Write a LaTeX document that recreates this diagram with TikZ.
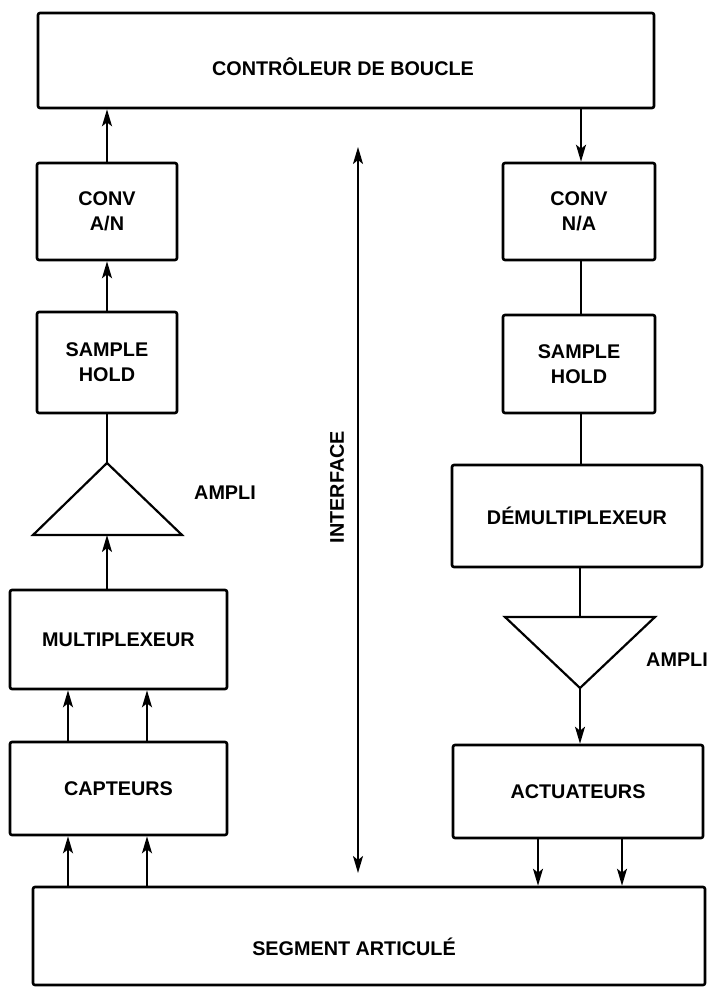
\documentclass[tikz,border=0pt]{standalone}
\usepackage{fontspec}
\setmainfont{Liberation Sans}
\usetikzlibrary{arrows.meta}
\begin{document}
\begin{tikzpicture}[x=1pt,y=-1pt,
  >={Stealth[length=17pt,width=10pt,inset=4pt]},
  blk/.style={draw, line width=2.6pt, rounded corners=2pt, inner sep=0pt,
    font=\bfseries\fontsize{19.8}{25}\selectfont, align=center},
  lbl/.style={font=\bfseries\fontsize{19.8}{25}\selectfont},
  flow/.style={line width=2pt, ->},
  link/.style={line width=2pt},
  amp/.style={line width=2.2pt, line join=miter}]
\useasboundingbox (0,0) rectangle (708,990);

% boxes
\node[blk, minimum width=616pt, minimum height=95pt,
  label={[lbl, shift={(-3,6)}]center:CONTRÔLEUR DE BOUCLE}] (ctrl) at (346,60.5) {};
\node[blk, minimum width=140pt, minimum height=97pt] (convAN) at (107,211.5) {CONV\\A/N};
\node[blk, minimum width=140pt, minimum height=101pt] (shL) at (107,362.5) {SAMPLE\\HOLD};
\node[blk, minimum width=217pt, minimum height=99pt] (mux) at (118.5,639.5) {MULTIPLEXEUR};
\node[blk, minimum width=217pt, minimum height=93pt] (capt) at (118.5,788.5) {CAPTEURS};
\node[blk, minimum width=672pt, minimum height=98pt,
  label={[lbl, shift={(-15,11)}]center:SEGMENT ARTICULÉ}] (seg) at (369,936) {};

\node[blk, minimum width=152pt, minimum height=97pt] (convNA) at (579,211.5) {CONV\\N/A};
\node[blk, minimum width=152pt, minimum height=98pt] (shR) at (579,364) {SAMPLE\\HOLD};
\node[blk, minimum width=250pt, minimum height=102pt] (demux) at (577,516) {DÉMULTIPLEXEUR};
\node[blk, minimum width=250pt, minimum height=93pt] (act) at (578,791.5) {ACTUATEURS};

% amplifiers
\coordinate (ampLtip) at (107,463);
\coordinate (ampLbase) at (107,535);
\draw[amp] (ampLtip) -- (182,535) -- (33,535) -- cycle;
\node[lbl] (ampLlbl) at (225,493) {AMPLI};

\coordinate (ampRbase) at (580,617);
\coordinate (ampRtip) at (580,688);
\draw[amp] (505,617) -- (655,617) -- (ampRtip) -- cycle;
\node[lbl] (ampRlbl) at (677,660) {AMPLI};

% acquisition chain (left)
\draw[flow] (convAN.north) -- (convAN.north |- ctrl.south);
\draw[flow] (shL.north) -- (convAN.south);
\draw[link] (shL.south) -- (ampLtip);
\draw[flow] (ampLbase |- mux.north) -- (ampLbase);
\draw[flow] (68,0 |- capt.north) -- (68,0 |- mux.south);
\draw[flow] (147,0 |- capt.north) -- (147,0 |- mux.south);
\draw[flow] (68,0 |- seg.north) -- (68,0 |- capt.south);
\draw[flow] (147,0 |- seg.north) -- (147,0 |- capt.south);

% command chain (right)
\draw[flow] (581,0 |- ctrl.south) -- (581,0 |- convNA.north);
\draw[link] (581,0 |- convNA.south) -- (581,0 |- shR.north);
\draw[link] (581,0 |- shR.south) -- (581,0 |- demux.north);
\draw[link] (ampRbase |- demux.south) -- (ampRbase);
\draw[flow] (ampRtip) -- (ampRtip |- act.north);
\draw[flow] (538,0 |- act.south) -- (538,0 |- seg.north);
\draw[flow] (622,0 |- act.south) -- (622,0 |- seg.north);

% interface
\coordinate (ifTop) at (358,147);
\coordinate (ifBot) at (358,873);
\draw[line width=2pt, <->] (ifTop) -- (ifBot);
\node[lbl, rotate=90] (iflbl) at (337,487) {INTERFACE};
\end{tikzpicture}
\end{document}
